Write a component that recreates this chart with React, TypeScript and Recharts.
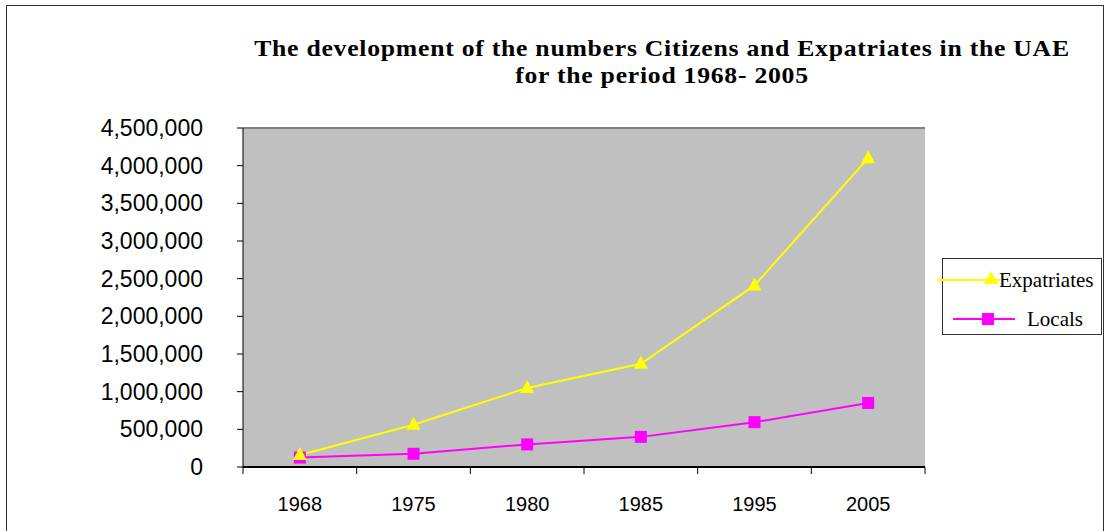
import React from 'react';
import { LineChart, Line, XAxis, YAxis, CartesianGrid, ReferenceLine } from 'recharts';

const years = ['1968', '1975', '1980', '1985', '1995', '2005'];
const expatriates = [160000, 560000, 1050000, 1370000, 2410000, 4100000];
const locals = [125000, 175000, 300000, 400000, 595000, 850000];
const yTicks = [0, 500000, 1000000, 1500000, 2000000, 2500000, 3000000, 3500000, 4000000, 4500000];
const seriesNames = ['Expatriates', 'Locals'];
const titleLines = [
  'The development of the numbers Citizens and Expatriates in the UAE',
  'for the period 1968- 2005',
];

const data = years.map((y, i) => ({ year: y, Expatriates: expatriates[i], Locals: locals[i] }));

const YELLOW = '#FFFF00';
const MAGENTA = '#FF00FF';

const Triangle = (props: any) => {
  const { cx, cy } = props;
  if (cx == null || cy == null) return null;
  return <polygon points={`${cx},${cy - 8} ${cx - 7},${cy + 5} ${cx + 7},${cy + 5}`} fill={YELLOW} />;
};

const Square = (props: any) => {
  const { cx, cy } = props;
  if (cx == null || cy == null) return null;
  return <rect x={cx - 6} y={cy - 6} width={12} height={12} fill={MAGENTA} />;
};

const XTick = (props: any) => {
  const { x, y, payload, index, width, visibleTicksCount } = props;
  const bw = width / (visibleTicksCount || years.length);
  const axisY = y - 8;
  return (
    <g>
      <line x1={x - bw / 2} x2={x - bw / 2} y1={axisY} y2={axisY + 7} stroke="#000" strokeWidth={1} />
      {index === years.length - 1 && (
        <line x1={x + bw / 2} x2={x + bw / 2} y1={axisY} y2={axisY + 7} stroke="#000" strokeWidth={1} />
      )}
      <text x={x} y={axisY + 44} textAnchor="middle" fontFamily="'Liberation Sans', Arial, sans-serif" fontSize={20} fill="#000">
        {payload.value}
      </text>
    </g>
  );
};

export default function App() {
  return (
    <div style={{ position: 'absolute', left: 0, top: 0, width: 1106, height: 531, overflow: 'hidden', background: '#fff' }}>
      <div style={{ position: 'absolute', left: 6, top: 5, width: 1096, height: 600, border: '1.5px solid #333' }} />
      <div
        style={{
          position: 'absolute',
          left: 162,
          top: 35,
          width: 1000,
          textAlign: 'center',
          fontFamily: "'Liberation Serif', 'Times New Roman', serif",
          fontWeight: 'bold',
          fontSize: 24,
          lineHeight: '27px',
          letterSpacing: '0.7px',
          color: '#000',
          transform: 'scaleX(1.07)',
          transformOrigin: '500px 0',
        }}
      >
        {titleLines.map((t) => (
          <div key={t}>{t}</div>
        ))}
      </div>
      <div style={{ position: 'absolute', left: 0, top: 0 }}>
        <LineChart width={1106} height={531} data={data} margin={{ top: 128, right: 181, bottom: 0, left: 0 }}>
          <CartesianGrid horizontal={false} vertical={false} fill="#C0C0C0" />
          <ReferenceLine y={4500000} stroke="#808080" strokeWidth={2} />
          <XAxis
            dataKey="year"
            scale="band"
            height={64}
            tickLine={false}
            axisLine={{ stroke: '#000', strokeWidth: 2 }}
            tick={<XTick />}
            interval={0}
          />
          <YAxis
            width={243}
            domain={[0, 4500000]}
            ticks={yTicks}
            interval={0}
            tickSize={6}
            tickMargin={34}
            tickLine={{ stroke: '#000' }}
            axisLine={{ stroke: '#000' }}
            tickFormatter={(v: number) => v.toLocaleString('en-US')}
            tick={{ fill: '#000', fontSize: 23, fontFamily: "'Liberation Sans', Arial, sans-serif" }}
          />
          <YAxis yAxisId="r" orientation="right" width={0} tick={false} tickLine={false} axisLine={{ stroke: '#808080', strokeWidth: 2 }} />
          <Line dataKey="Locals" stroke={MAGENTA} strokeWidth={2} dot={<Square />} isAnimationActive={false} />
          <Line
            dataKey="Expatriates"
            stroke={YELLOW}
            strokeWidth={2}
            dot={<Triangle />}
            isAnimationActive={false}
          />
        </LineChart>
      </div>
      <div
        style={{
          position: 'absolute',
          left: 942,
          top: 258,
          width: 160,
          height: 77,
          border: '1px solid #333',
          boxSizing: 'border-box',
        }}
      />
      <svg style={{ position: 'absolute', left: 0, top: 0 }} width={1106} height={531}>
        <line x1={937} x2={1000} y1={280} y2={280} stroke={YELLOW} strokeWidth={2} />
        <Triangle cx={991} cy={279} />
        <text x={999} y={287} fontFamily="'Liberation Serif', 'Times New Roman', serif" fontSize={21} fill="#000">
          {seriesNames[0]}
        </text>
        <line x1={953} x2={1015} y1={319} y2={319} stroke={MAGENTA} strokeWidth={2} />
        <Square cx={988} cy={319} />
        <text x={1027} y={326} fontFamily="'Liberation Serif', 'Times New Roman', serif" fontSize={21} fill="#000">
          {seriesNames[1]}
        </text>
      </svg>
    </div>
  );
}
